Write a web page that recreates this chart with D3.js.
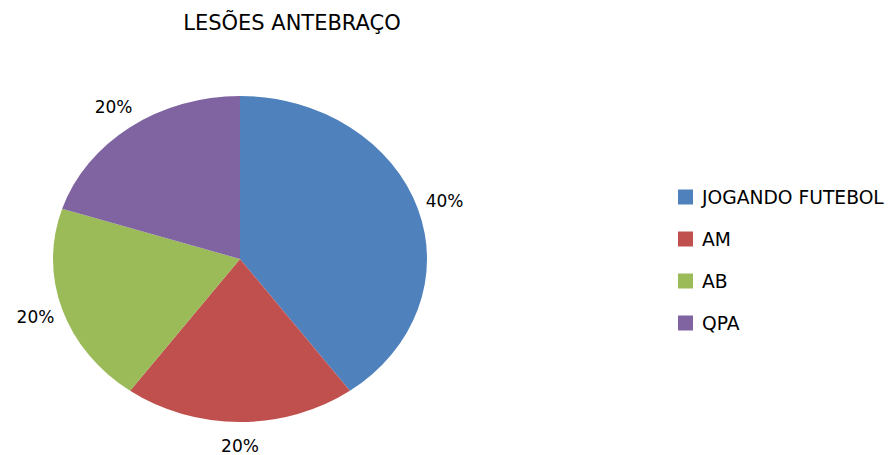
<!DOCTYPE html>
<html>
<head>
<meta charset="utf-8">
<script src="https://cdn.jsdelivr.net/npm/d3@7"></script>
<style>
  body { margin: 0; background: #fff; }
  svg { display: block; font-family: "DejaVu Sans", sans-serif; }
</style>
</head>
<body>
<svg id="chart" width="889" height="455"></svg>
<script>
const categories = ['JOGANDO FUTEBOL', 'AM', 'AB', 'QPA'];
const values = [40, 20, 20, 20];
const labels = ['40%', '20%', '20%', '20%'];
const colors = ['#4f81bd', '#c0504d', '#9bbb59', '#8064a2'];

const svg = d3.select('#chart');
const cx = 240, cy = 259, rx = 187, ry = 163;

svg.append('text')
   .attr('x', 292)
   .attr('y', 30)
   .attr('text-anchor', 'middle')
   .attr('font-size', '21px')
   .attr('fill', '#000')
   .text('LESÕES ANTEBRAÇO');

const pie = d3.pie().sort(null).value(d => d);
const arcs = pie(values);
const arc = d3.arc().innerRadius(0).outerRadius(ry);

// ellipse: draw the pie on a circle and stretch it horizontally
const group = svg.append('g').attr('transform', `translate(${cx},${cy}) scale(${rx / ry},1)`);
group.selectAll('path')
  .data(arcs)
  .enter()
  .append('path')
  .attr('d', arc)
  .attr('fill', (d, i) => colors[i]);

svg.selectAll('.pct')
  .data(arcs)
  .enter()
  .append('text')
  .attr('class', 'pct')
  .attr('x', d => cx + 1.15 * rx * Math.sin((d.startAngle + d.endAngle) / 2))
  .attr('y', d => cy - 1.15 * ry * Math.cos((d.startAngle + d.endAngle) / 2))
  .attr('text-anchor', 'middle')
  .attr('dominant-baseline', 'central')
  .attr('font-size', '17px')
  .attr('fill', '#000')
  .text((d, i) => labels[i]);

const legend = svg.append('g').attr('transform', 'translate(678,197)');
const rows = legend.selectAll('g')
  .data(categories)
  .enter()
  .append('g')
  .attr('transform', (d, i) => `translate(0,${i * 42})`);
rows.append('rect')
  .attr('x', 0).attr('y', -7.5)
  .attr('width', 15).attr('height', 15)
  .attr('fill', (d, i) => colors[i]);
rows.append('text')
  .attr('x', 24)
  .attr('y', 0)
  .attr('dominant-baseline', 'central')
  .attr('font-size', '18.7px')
  .attr('fill', '#000')
  .text(d => d);
</script>
</body>
</html>
